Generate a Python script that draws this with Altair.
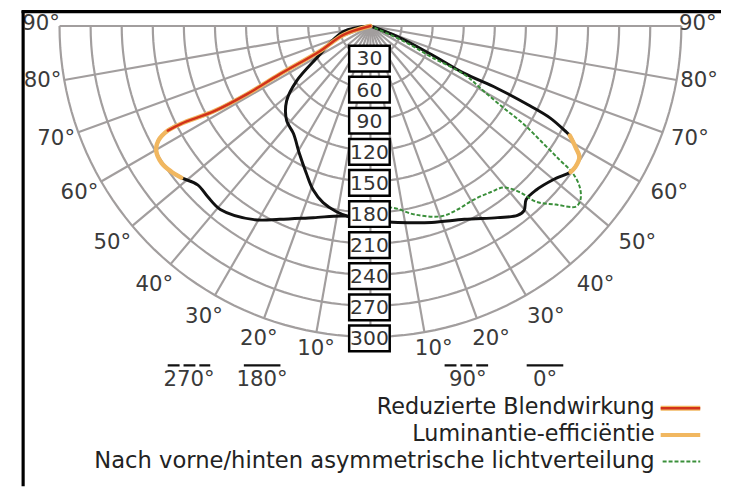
import altair as alt
import pandas as pd
import numpy as np

# ---------------- data ----------------
RING_VALUES = [30, 60, 90, 120, 150, 180, 210, 240, 270, 300]
ANGLE_TICKS = [10, 20, 30, 40, 50, 60, 70, 80, 90]

# C0 plane (right, black solid)
C0_THETA = [0, 8, 17.3, 25.9, 33.6, 37.8, 39.8, 41.9, 45.3, 49.9, 53.9, 55.5, 57.9, 59.4, 61.2,
            61.7, 62.9, 63.4, 63.8, 63.2, 64.9, 68.5, 90]
C0_VALUE = [188, 191.4, 198.5, 207.4, 222, 231.4, 231.7, 225, 225, 230.4, 239, 240, 238, 230, 219.5,
            213, 194.6, 172.5, 136, 101, 65, 28.6, 0]
# C180 plane (left, black solid)
C180_THETA = [0, 7.4, 16.6, 25.1, 31, 39.3, 43.6, 47.4, 51.3, 53.8, 56.7, 59.9, 61.6, 62.7,
              62.7, 61.4, 61.1, 62, 63.4, 72, 90]
C180_VALUE = [188, 185, 193, 206, 218, 228.7, 227.6, 226.5, 234, 238, 241, 239, 232.7, 220,
              205.7, 171, 136, 99, 55.4, 27, 0]
# C270 plane (left, black)
C270_THETA = [0, 6.5, 10.5, 15, 19.3, 23.6, 29.2, 35.6, 41.5, 48.2, 53.3, 59, 78, 90]
C270_VALUE = [187, 185, 182, 176.5, 167.5, 154.8, 140.7, 127.6, 122, 108.5, 89, 61, 27, 0]
# C90 plane (right, green dashed: asymmetric distribution)
C90_THETA = [0, 6.8, 13.3, 20.5, 25.3, 30.8, 36, 39.5, 42, 43.3, 46.1, 48.7, 50.4, 52.4, 54,
             54.7, 55.8, 57.4, 58.4, 60.1, 62.7, 63, 65.4, 90]
C90_VALUE = [177, 176.5, 187, 196, 196, 195, 198, 202, 216, 233, 248.5, 264, 263, 255, 241,
             224, 201.5, 175, 151, 126, 102, 67, 36.6, 0]

# highlighted parts of the curves (point index ranges)
LUM_C180_FROM = 8
LUM_C0_RANGE = (10, 14)
BLEND_C180_FROM = 13

LEGEND_LABELS = ["Reduzierte Blendwirkung", "Luminantie-efficiëntie",
                 "Nach vorne/hinten asymmetrische lichtverteilung"]
CPLANE_LABELS = ["270°", "180°", "90°", "0°"]
CPLANE_DASHED = [True, False, True, False]

# ---------------- layout / style ----------------
PX = 1.048            # pixels per cd unit
W, H = 721, 481
CX, CY = 366.5, 15.5  # pole position inside the plot area (px)
XDOM = [-CX / PX, (W - CX) / PX]
YDOM = [-(H - CY) / PX, CY / PX]
FONT = "DejaVu Sans"
GRID = "#a29e9e"
RED = "#d2321a"
ORANGE = "#f1b760"
GREEN = "#3a8f3a"

X = alt.X("x:Q", scale=alt.Scale(domain=XDOM, nice=False, zero=False), axis=None)
Y = alt.Y("y:Q", scale=alt.Scale(domain=YDOM, nice=False, zero=False), axis=None)


def polar(chart, r="datum.value", a="datum.ang"):
    return chart.transform_calculate(
        x=f"{r} * sin({a} * PI / 180)",
        y=f"-{r} * cos({a} * PI / 180)",
    )


def curve_df(theta, value, side):
    return pd.DataFrame({"ang": [side * t for t in theta], "value": value,
                         "idx": list(range(len(theta)))})


dummy = pd.DataFrame({"a": [0]})

# grid rings
ring_rows = [(k, a) for k in RING_VALUES for a in np.arange(-90, 90.01, 2)]
rings_df = pd.DataFrame(ring_rows, columns=["ring", "ang"])
rings_df["value"] = rings_df["ring"]
rings = polar(alt.Chart(rings_df).mark_line(color=GRID, strokeWidth=2.2)).encode(
    x=X, y=Y, detail="ring:N", order="ang:Q")

# grid radials
rad_angles = [-a for a in ANGLE_TICKS[::-1]] + [0] + ANGLE_TICKS
rad_df = pd.DataFrame({"ang": rad_angles, "value": max(RING_VALUES)})
radials = alt.Chart(rad_df).mark_rule(color=GRID, strokeWidth=2.2).transform_calculate(
    x0="0", y0="0",
    x="datum.value * sin(datum.ang * PI / 180)",
    y="-datum.value * cos(datum.ang * PI / 180)",
).encode(
    x=alt.X("x0:Q", scale=alt.Scale(domain=XDOM, nice=False, zero=False), axis=None),
    y=alt.Y("y0:Q", scale=alt.Scale(domain=YDOM, nice=False, zero=False), axis=None),
    x2="x:Q", y2="y:Q")

c0 = curve_df(C0_THETA, C0_VALUE, 1)
c180 = curve_df(C180_THETA, C180_VALUE, -1)
c270 = curve_df(C270_THETA, C270_VALUE, -1)
c90 = curve_df(C90_THETA, C90_VALUE, 1)


def line(df, cap="round", **kw):
    return polar(alt.Chart(df).mark_line(interpolate="catmull-rom", strokeCap=cap,
                                         strokeJoin="round", **kw)).encode(
        x=X, y=Y, order="idx:Q")


black_c0 = line(c0, color="#111", strokeWidth=3)
black_c180 = line(c180, color="#111", strokeWidth=3)
black_c270 = line(c270, color="#111", strokeWidth=3)
green_c90 = line(c90, cap="butt", color=GREEN, strokeWidth=2, strokeDash=[4, 2])

lum1 = line(c180[c180["idx"] >= LUM_C180_FROM], color=ORANGE, strokeWidth=4.5)
lum2 = line(c0[(c0["idx"] >= LUM_C0_RANGE[0]) & (c0["idx"] <= LUM_C0_RANGE[1])],
            color=ORANGE, strokeWidth=4.5)
blend = line(c180[c180["idx"] >= BLEND_C180_FROM], color=RED, strokeWidth=2.5)

# ring value boxes
box_df = pd.DataFrame({"k": RING_VALUES})
boxes = alt.Chart(box_df).mark_rect(fill="white", stroke="black", strokeWidth=2.5).transform_calculate(
    yc=f"-(datum.k * {PX} + 1.5) / {PX}",
    x=f"-21.5 / {PX}", x2=f"19.5 / {PX}",
).transform_calculate(
    y=f"datum.yc + 13 / {PX}", y2=f"datum.yc - 13 / {PX}"
).encode(x=X, y=Y, x2="x2:Q", y2="y2:Q")
box_text = alt.Chart(box_df).mark_text(font=FONT, fontSize=20.5, color="#333",
                                       align="center", baseline="middle", dy=1).transform_calculate(
    x=f"-1 / {PX}", y=f"-(datum.k * {PX} + 1.5) / {PX}"
).encode(x=X, y=Y, text="k:N")

# angle labels (placed just outside the outer ring)
lab_df = pd.DataFrame({"ang": rad_angles})
lab_df = lab_df[lab_df["ang"] != 0]
lab_df["label"] = [f"{abs(a)}°" for a in lab_df["ang"]]
angle_labels = alt.Chart(lab_df).mark_text(font=FONT, fontSize=21.5, color="#3a3a3a",
                                           align="center", baseline="middle", dy=-2).transform_calculate(
    s="abs(sin(datum.ang * PI / 180))",
    rl="328 + 17 * abs(sin(2 * datum.ang * PI / 180))",
).transform_calculate(
    off="datum.ang > 0 ? 6 - 3 * pow(datum.s, 12) : 3 - 8 * pow(datum.s, 20)",
).transform_calculate(
    x=f"(datum.rl * sin(datum.ang * PI / 180) + datum.off) / {PX}",
    y=f"-datum.rl * cos(datum.ang * PI / 180) / {PX}",
).encode(x=X, y=Y, text="label:N")

layers = [rings, radials, black_c270, black_c180, black_c0, green_c90, lum1, lum2, blend,
          boxes, box_text, angle_labels]

# C-plane key under the diagram
CPLANE_X = [183, 257, 465, 543]
CPLANE_HALF = [21.5, 18.5, 23.5, 18.5]
for lab, dashed, cx, hw in zip(CPLANE_LABELS, CPLANE_DASHED, CPLANE_X, CPLANE_HALF):
    kw = {"strokeDash": [12, 4]} if dashed else {}
    layers.append(alt.Chart(dummy).mark_rule(color="#111", strokeWidth=2.5, **kw).encode(
        x=alt.value(cx - hw), x2=alt.value(cx + hw), y=alt.value(358.7)))
    layers.append(alt.Chart(dummy).mark_text(text=lab, font=FONT, fontSize=21.5, color="#3a3a3a",
                                             align="center", baseline="middle").encode(
        x=alt.value(cx), y=alt.value(374)))

# series legend (bottom right)
LEG_Y = [401, 428, 455]
LEG_SIZE = [22.5, 22.5, 22.9]
for lab, ly, fs in zip(LEGEND_LABELS, LEG_Y, LEG_SIZE):
    layers.append(alt.Chart(dummy).mark_text(text=lab, font=FONT, fontSize=fs, color="#222",
                                             align="right", baseline="middle").encode(
        x=alt.value(654), y=alt.value(ly)))
layers.append(alt.Chart(dummy).mark_rule(color=ORANGE, strokeWidth=5).encode(
    x=alt.value(660), x2=alt.value(700), y=alt.value(LEG_Y[0] + 1)))
layers.append(alt.Chart(dummy).mark_rule(color=RED, strokeWidth=2.5).encode(
    x=alt.value(660), x2=alt.value(700), y=alt.value(LEG_Y[0] + 1)))
layers.append(alt.Chart(dummy).mark_rule(color=ORANGE, strokeWidth=4).encode(
    x=alt.value(660), x2=alt.value(700), y=alt.value(LEG_Y[1] + 1)))
layers.append(alt.Chart(dummy).mark_rule(color=GREEN, strokeWidth=2, strokeDash=[4, 2]).encode(
    x=alt.value(662), x2=alt.value(700), y=alt.value(LEG_Y[2] + 1)))

# frame (left and top edges)
layers.append(alt.Chart(dummy).mark_rule(color="black", strokeWidth=3.2).encode(
    x=alt.value(15.3), y=alt.value(0), y2=alt.value(H)))
layers.append(alt.Chart(dummy).mark_rule(color="black", strokeWidth=3.2).encode(
    x=alt.value(13.7), x2=alt.value(W), y=alt.value(1)))

chart = alt.layer(*layers).properties(
    width=W, height=H, autosize=alt.AutoSizeParams(type="none"), padding=0,
    background="white"
).configure_view(strokeWidth=0)

chart.save("out.html", embed_options={"renderer": "svg", "actions": False})
